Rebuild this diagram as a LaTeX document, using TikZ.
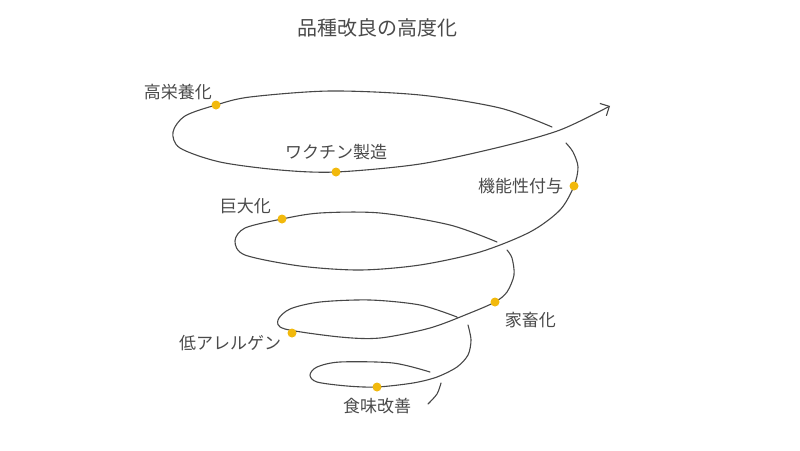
\documentclass[tikz,border=0pt]{standalone}
\usepackage{fontspec}
\setmainfont{Noto Sans CJK JP}
\usetikzlibrary{arrows.meta,positioning}
\definecolor{spiral}{HTML}{474747}
\definecolor{dotc}{HTML}{F2B90C}
\definecolor{txt}{HTML}{4A4A4A}
\tikzset{
  curve/.style={draw=spiral,line width=1.1pt,line cap=round},
  pt/.style={circle,fill=dotc,inner sep=0pt,minimum size=9pt},
  lbl/.style={text=txt,font=\fontsize{17}{19}\selectfont,inner sep=2pt}
}
\begin{document}
\begin{tikzpicture}[x=1pt,y=-1pt]
\useasboundingbox (0,0) rectangle (800,450);
\node[text=txt,font=\fontsize{20}{23}\selectfont] (title) at (377,28) {品種改良の高度化};
% spiral, from the bottom up
\draw[curve] plot[smooth] coordinates {(428,404) (437,394) (441,383)};
\draw[curve] plot[smooth] coordinates {(430,372) (393,363) (340,362) (317,367) (310,375) (317,382) (347,386) (377,387) (413,383) (437,377) (457,367) (468,355) (471,340) (468,325)};
\draw[curve] plot[smooth] coordinates {(457,317) (420,305) (370,300) (320,302) (290,309) (278,320) (285,329) (340,337) (380,338) (430,328) (470,313) (495,302) (507,292) (514,275) (512,258) (507,250)};
\draw[curve] plot[smooth] coordinates {(497,242) (450,225) (380,213) (320,213) (282,219) (245,228) (235,241) (245,255) (300,266) (360,270) (420,265) (480,252) (530,232) (560,210) (574,186) (578,167) (573,152) (566,143)};
\draw[curve,-{Straight Barb[length=7pt,width=14pt]}] plot[smooth] coordinates {(552,127) (500,108) (420,95) (330,91) (250,97) (216,105) (185,116) (173,132) (180,148) (220,162) (280,170) (336,172) (420,164) (500,147) (560,130) (610,106)};
% points on the spiral
\node[pt] (p1) at (377,387) {};
\node[pt] (p2) at (292,333) {};
\node[pt] (p3) at (495,302) {};
\node[pt] (p4) at (282,219) {};
\node[pt] (p5) at (574,186) {};
\node[pt] (p6) at (336,172) {};
\node[pt] (p7) at (216,105) {};
\node[lbl,below=4pt of p1] (l1) {食味改善};
\node[lbl,left=4pt of p2,yshift=-10pt] (l2) {低アレルゲン};
\node[lbl,right=3pt of p3,yshift=-18pt] (l3) {家畜化};
\node[lbl,anchor=east] (l4) at ([shift={(-9,-13)}]p4) {巨大化};
\node[lbl,left=4pt of p5] (l5) {機能性付与};
\node[lbl,above=5pt of p6] (l6) {ワクチン製造};
\node[lbl,anchor=east] (l7) at ([shift={(-2,-13)}]p7) {高栄養化};
\end{tikzpicture}
\end{document}
